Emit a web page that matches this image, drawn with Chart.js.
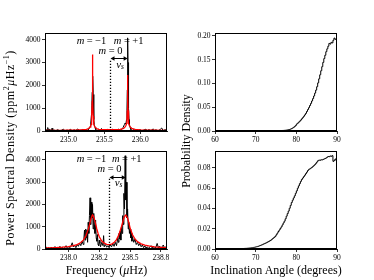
<!DOCTYPE html>
<html><head><meta charset="utf-8">
<script src="https://cdn.jsdelivr.net/npm/chart.js@4.4.1/dist/chart.umd.min.js"></script>
<style>
html,body{margin:0;padding:0;background:#fff;}
body{width:374px;height:280px;position:relative;overflow:hidden;font-family:"Liberation Serif",serif;color:#000;}
.box{position:absolute;}
.t{position:absolute;white-space:nowrap;line-height:1;}
.hor{transform:translate(-50%,-50%);}
#ov{position:absolute;left:0;top:0;pointer-events:none;}
</style></head><body>
<div class="box" id="bTL"><canvas id="cTL"></canvas></div>
<div class="box" id="bBL"><canvas id="cBL"></canvas></div>
<div class="box" id="bTR"><canvas id="cTR"></canvas></div>
<div class="box" id="bBR"><canvas id="cBR"></canvas></div>
<canvas id="ov" width="374" height="280" aria-label="Power Spectral Density (ppm²μHz⁻¹); Probability Density"></canvas>
<div class="t hor" id="xlL" style="left:106.5px;top:270px;font-size:12px;">Frequency (<i>μ</i>Hz)</div>
<div class="t hor" id="xlR" style="left:276px;top:270px;font-size:12px;">Inclination Angle (degrees)</div>
<script>
// ---------------- DATA ----------------
// Top-left spectrum (frequency μHz, PSD)
const TOP_SPECTRUM = [
[234.68,20],[234.70,60],[234.71,150],[234.72,30],[234.735,90],[234.75,10],[234.77,120],[234.78,20],[234.80,40],[234.82,5],
[234.85,60],[234.87,15],[234.90,30],[234.93,80],[234.95,10],[234.98,40],[235.00,20],[235.03,70],[235.05,10],[235.08,50],
[235.10,20],[235.13,90],[235.15,15],[235.18,40],[235.20,60],[235.22,10],[235.25,50],[235.27,30],[235.29,120],[235.30,200],
[235.31,350],[235.32,700],[235.325,1100],[235.33,1700],[235.335,2400],[235.34,2300],[235.345,1600],[235.35,900],[235.355,500],[235.36,280],
[235.37,150],[235.38,60],[235.40,20],[235.42,80],[235.44,30],[235.46,110],[235.48,20],[235.50,60],[235.52,10],[235.54,70],
[235.56,20],[235.58,50],[235.60,30],[235.62,90],[235.64,15],[235.66,60],[235.68,30],[235.70,80],[235.72,20],[235.74,60],
[235.76,150],[235.78,280],[235.79,350],[235.80,300],[235.81,500],[235.815,900],[235.82,1800],[235.825,4080],[235.83,3000],[235.835,1900],
[235.84,1000],[235.845,500],[235.85,280],[235.86,150],[235.87,60],[235.89,20],[235.91,70],[235.93,10],[235.95,50],[235.97,20],
[236.00,60],[236.02,10],[236.05,40],[236.08,80],[236.10,15],[236.12,60],[236.15,20],[236.18,90],[236.20,30],[236.22,50],
[236.25,10],[236.28,70],[236.30,130],[236.32,20],[236.35,60],[236.37,30]
];
const TOP_FIT = [
[234.68,25],[234.80,27],[234.90,30],[235.00,33],[235.10,40],[235.20,55],[235.25,75],[235.28,110],[235.30,170],[235.31,230],
[235.315,290],[235.32,400],[235.325,650],[235.33,1300],[235.333,2200],[235.335,3350],[235.337,2200],[235.34,1300],[235.345,650],[235.35,400],
[235.355,290],[235.36,230],[235.37,170],[235.39,110],[235.42,75],[235.47,60],[235.55,55],[235.65,60],[235.72,75],[235.76,100],
[235.78,140],[235.80,230],[235.81,330],[235.815,480],[235.82,900],[235.823,1700],[235.825,2450],[235.827,1700],[235.83,900],[235.835,480],
[235.84,330],[235.85,230],[235.87,140],[235.89,100],[235.93,70],[236.00,50],[236.10,40],[236.20,33],[236.30,28],[236.37,25]
];
// Bottom-left spectrum
const BOTTOM_SPECTRUM = [
[237.81,30],[237.82,80],[237.83,20],[237.84,60],[237.85,10],[237.86,90],[237.87,30],[237.88,50],[237.89,110],[237.90,20],
[237.91,70],[237.92,40],[237.93,120],[237.94,30],[237.95,80],[237.96,20],[237.97,60],[237.98,150],[237.99,40],[238.00,90],
[238.01,50],[238.02,130],[238.03,280],[238.04,90],[238.05,160],[238.06,60],[238.07,200],[238.08,120],[238.09,260],[238.10,150],
[238.11,350],[238.12,200],[238.125,480],[238.13,850],[238.135,400],[238.14,900],[238.145,500],[238.15,850],[238.155,300],[238.16,1200],
[238.165,700],[238.17,1500],[238.175,2300],[238.18,1100],[238.185,2100],[238.19,1400],[238.195,2000],[238.20,900],[238.205,1600],[238.21,1100],
[238.215,700],[238.22,1300],[238.225,500],[238.23,350],[238.235,650],[238.24,200],[238.245,150],[238.25,400],[238.255,250],[238.26,100],
[238.27,300],[238.28,150],[238.285,600],[238.29,100],[238.30,200],[238.31,80],[238.32,150],[238.33,60],[238.34,180],[238.35,100],
[238.36,250],[238.37,120],[238.38,300],[238.39,150],[238.40,500],[238.405,300],[238.41,700],[238.415,450],[238.42,800],[238.425,400],
[238.43,1000],[238.435,700],[238.44,1500],[238.445,1100],[238.45,2500],[238.455,1800],[238.46,4190],[238.465,2200],[238.47,3000],[238.475,1400],
[238.48,1800],[238.485,900],[238.49,1200],[238.495,700],[238.50,900],[238.505,500],[238.51,700],[238.515,350],[238.52,550],[238.53,300],
[238.54,450],[238.55,200],[238.56,300],[238.57,150],[238.58,250],[238.59,100],[238.60,180],[238.61,60],[238.62,140],[238.63,40],
[238.64,100],[238.65,30],[238.66,80],[238.67,150],[238.68,40],[238.69,110],[238.70,20],[238.71,90],[238.72,250],[238.73,60],
[238.74,130],[238.75,30],[238.76,100],[238.77,180],[238.78,40],[238.79,90],[238.80,50]
];
const BOTTOM_FIT = [
[237.81,45],[237.85,55],[237.90,65],[237.95,80],[238.00,110],[238.04,150],[238.07,200],[238.10,290],[238.12,400],[238.14,580],
[238.16,880],[238.17,1080],[238.18,1300],[238.19,1480],[238.195,1530],[238.20,1500],[238.21,1350],[238.22,1130],[238.23,900],[238.24,700],
[238.25,550],[238.27,360],[238.29,260],[238.31,210],[238.33,200],[238.35,220],[238.37,290],[238.39,420],[238.41,650],[238.43,1000],
[238.44,1200],[238.45,1400],[238.46,1500],[238.465,1520],[238.47,1500],[238.48,1380],[238.49,1180],[238.50,950],[238.52,640],[238.54,450],
[238.56,330],[238.59,230],[238.62,170],[238.66,125],[238.70,95],[238.75,75],[238.80,60]
];
// Mode annotations: [m=-1, m=0, m=+1] frequencies and arrow level
const TOP_MODES = [235.335, 235.58, 235.825];
const TOP_ARROW_PSD = 3180;
const BOTTOM_MODES = [238.195, 238.33, 238.465];
const BOTTOM_ARROW_PSD = 3250;

// Inclination histograms (0.25 degree bins)
const BIN_EDGES = [
60,60.25,60.5,60.75,61,61.25,61.5,61.75,62,62.25,62.5,62.75,63,63.25,63.5,63.75,64,64.25,64.5,64.75,
65,65.25,65.5,65.75,66,66.25,66.5,66.75,67,67.25,67.5,67.75,68,68.25,68.5,68.75,69,69.25,69.5,69.75,
70,70.25,70.5,70.75,71,71.25,71.5,71.75,72,72.25,72.5,72.75,73,73.25,73.5,73.75,74,74.25,74.5,74.75,
75,75.25,75.5,75.75,76,76.25,76.5,76.75,77,77.25,77.5,77.75,78,78.25,78.5,78.75,79,79.25,79.5,79.75,
80,80.25,80.5,80.75,81,81.25,81.5,81.75,82,82.25,82.5,82.75,83,83.25,83.5,83.75,84,84.25,84.5,84.75,
85,85.25,85.5,85.75,86,86.25,86.5,86.75,87,87.25,87.5,87.75,88,88.25,88.5,88.75,89,89.25,89.5,89.75,90];
const TOP_HIST = [
0,0,0,0, 0,0,0,0, 0,0,0,0, 0,0,0,0, 0,0,0,0,
0,0,0,0, 0,0,0,0.0001, 0,0.0001,0,0.0001, 0.0001,0.0001,0.0001,0.0001, 0.0001,0.0001,0.0001,0.0001,
0.0001,0.0001,0.0001,0.0001, 0.0001,0.0001,0.0002,0.0001, 0.0002,0.0002,0.0002,0.0002, 0.0002,0.0003,0.0003,0.0003, 0.0004,0.0004,0.0005,0.0005,
0.0006,0.0006,0.0007,0.0008, 0.0009,0.0010,0.0011,0.0012, 0.0014,0.0016,0.0019,0.0022, 0.0027,0.0032,0.0040,0.0050, 0.0062,0.0076,0.0094,0.0115,
0.0145,0.0163,0.0184,0.0205, 0.0228,0.0255,0.0280,0.0308, 0.0338,0.0370,0.0410,0.0450, 0.0490,0.0535,0.0580,0.0630, 0.0680,0.0735,0.0795,0.0858,
0.0930,0.1010,0.1095,0.1180, 0.1265,0.1350,0.1440,0.1520, 0.1590,0.1665,0.1725,0.1780, 0.1838,0.1825,0.1860,0.1850, 0.1905,0.1950,0.1925,0.1930];
const BOTTOM_HIST = [
0,0,0.0001,0, 0,0.0001,0.0001,0.0001, 0.0001,0.0001,0.0001,0.0001, 0.0001,0.0001,0.0002,0.0001, 0.0002,0.0002,0.0002,0.0002,
0.0002,0.0003,0.0003,0.0003, 0.0004,0.0004,0.0004,0.0005, 0.0005,0.0006,0.0006,0.0007, 0.0008,0.0009,0.0010,0.0011, 0.0013,0.0014,0.0016,0.0018,
0.0021,0.0023,0.0026,0.0030, 0.0034,0.0038,0.0042,0.0047, 0.0052,0.0056,0.0061,0.0066, 0.0072,0.0077,0.0083,0.0090, 0.0099,0.0107,0.0115,0.0125,
0.0140,0.0156,0.0172,0.0187, 0.0203,0.0218,0.0237,0.0256, 0.0274,0.0297,0.0323,0.0348, 0.0373,0.0401,0.0429,0.0457, 0.0480,0.0502,0.0523,0.0548,
0.0572,0.0598,0.0621,0.0643, 0.0665,0.0684,0.0698,0.0712, 0.0726,0.0741,0.0756,0.0772, 0.0783,0.0789,0.0796,0.0803, 0.0812,0.0821,0.0831,0.0843,
0.0856,0.0869,0.0875,0.0872, 0.0878,0.0876,0.0881,0.0886, 0.0890,0.0896,0.0903,0.0910, 0.0908,0.0915,0.0912,0.0918, 0.0862,0.0872,0.0885,0.0870];

// Axis ticks
const TL_X_TICKS = [235.0, 235.5, 236.0];
const TL_X_LABELS = ['235.0', '235.5', '236.0'];
const BL_X_TICKS = [238.0, 238.25, 238.5, 238.75];
const BL_X_LABELS = ['238.0', '238.2', '238.5', '238.8'];
const PSD_Y_TICKS = [0, 1000, 2000, 3000, 4000];
const PSD_Y_LABELS = ['0', '1000', '2000', '3000', '4000'];
const ANG_X_TICKS = [60, 70, 80, 90];
const ANG_X_LABELS = ['60', '70', '80', '90'];
const TR_Y_TICKS = [0, 0.05, 0.10, 0.15, 0.20];
const TR_Y_LABELS = ['0.00', '0.05', '0.10', '0.15', '0.20'];
const BR_Y_TICKS = [0, 0.02, 0.04, 0.06, 0.08];
const BR_Y_LABELS = ['0.00', '0.02', '0.04', '0.06', '0.08'];

// ---------------- LAYOUT ----------------
const Y_AXIS_W = 36, PAD_T = 8, PAD_R = 12, X_AXIS_H = 16;
const TICK_FONT = {family: 'Liberation Serif', size: 7.5};
const ANNO_FONT = 'Liberation Serif';

const framePlugin = {
  id: 'frame',
  afterDraw(chart) {
    const a = chart.chartArea, ctx = chart.ctx;
    ctx.save();
    ctx.strokeStyle = '#000'; ctx.lineWidth = 1;
    ctx.strokeRect(Math.round(a.left) + 0.5, Math.round(a.top) + 0.5,
      Math.round(a.right - a.left) - 1, Math.round(a.bottom - a.top) - 1);
    ctx.restore();
  }
};

function runsWidth(ctx, runs) {
  let w = 0;
  runs.forEach(r => {
    if (r.gap) { w += r.gap; return; }
    ctx.font = (r.it ? 'italic ' : '') + r.size + 'px "' + ANNO_FONT + '"';
    r.w = ctx.measureText(r.t).width; w += r.w;
  });
  return w;
}
function drawRuns(ctx, runs, cx, cy) {
  const w = runsWidth(ctx, runs);
  let x = cx - w / 2;
  ctx.textAlign = 'left'; ctx.textBaseline = 'middle'; ctx.fillStyle = '#000';
  runs.forEach(r => {
    if (r.gap) { x += r.gap; return; }
    ctx.font = (r.it ? 'italic ' : '') + r.size + 'px "' + ANNO_FONT + '"';
    ctx.fillText(r.t, x, cy + (r.dy || 0));
    x += r.w;
  });
}

const annoPlugin = {
  id: 'anno',
  afterDatasetsDraw(chart, args, opts) {
    if (!opts || !opts.modes) return;
    const xs = chart.scales.x, ys = chart.scales.y, ca = chart.chartArea, ctx = chart.ctx;
    const xm1 = xs.getPixelForValue(opts.modes[0]);
    const x0 = Math.round(xs.getPixelForValue(opts.modes[1])) + 0.5;
    const xp1 = xs.getPixelForValue(opts.modes[2]);
    const ya = Math.round(ys.getPixelForValue(opts.arrow)) + 0.5;
    const yb = ys.getPixelForValue(0);
    ctx.save();
    ctx.strokeStyle = '#000'; ctx.lineWidth = 1.3;
    ctx.setLineDash([1.3, 1.7]);
    ctx.beginPath(); ctx.moveTo(x0, yb); ctx.lineTo(x0, ya + 1); ctx.stroke();
    ctx.setLineDash([]);
    ctx.lineWidth = 1;
    ctx.beginPath(); ctx.moveTo(x0 + 2, ya); ctx.lineTo(xp1 - 2, ya); ctx.stroke();
    ctx.fillStyle = '#000';
    ctx.beginPath(); ctx.moveTo(x0, ya); ctx.lineTo(x0 + 4, ya - 2.2); ctx.lineTo(x0 + 4, ya + 2.2); ctx.closePath(); ctx.fill();
    ctx.beginPath(); ctx.moveTo(xp1, ya); ctx.lineTo(xp1 - 4, ya - 2.2); ctx.lineTo(xp1 - 4, ya + 2.2); ctx.closePath(); ctx.fill();
    const S = 10.5, G = 2.5;
    drawRuns(ctx, [{t:'m', it:1, size:S}, {gap:G}, {t:'=', size:S}, {gap:G}, {t:'−1', size:S}], xm1 - 1, ca.top + 8);
    drawRuns(ctx, [{t:'m', it:1, size:S}, {gap:G}, {t:'=', size:S}, {gap:G}, {t:'+1', size:S}], xp1 + 1, ca.top + 8);
    drawRuns(ctx, [{t:'m', it:1, size:S}, {gap:G}, {t:'=', size:S}, {gap:G}, {t:'0', size:S}], x0, ca.top + 18.5);
    drawRuns(ctx, [{t:'ν', it:1, size:S + 0.5}, {t:'s', it:1, size:7.5, dy:2.5}], (x0 + xp1) / 2 + 1, ca.top + 32);
    ctx.restore();
  }
};

function axis(min, max, ticks, labels, horizontal) {
  const o = {
    type: 'linear', min: min, max: max, bounds: 'data',
    afterBuildTicks: s => { s.ticks = ticks.map(v => ({value: v})); },
    ticks: {callback: (v, i) => labels[i], font: TICK_FONT, color: '#000', padding: 1.5,
            maxRotation: 0, autoSkip: false},
    grid: {display: true, drawOnChartArea: false, drawTicks: true, tickLength: 3,
           color: '#000', lineWidth: 0.8},
    border: {display: true, color: '#000', width: 1}
  };
  if (horizontal) {
    o.afterFit = s => { s.height = X_AXIS_H; s.paddingLeft = 0; s.paddingRight = 0; };
  } else {
    o.afterFit = s => { s.width = Y_AXIS_W; s.paddingTop = 0; s.paddingBottom = 0; };
  }
  return o;
}

function makeChart(id, area, cfg) {
  const w = Y_AXIS_W + (area.r - area.l) + PAD_R;
  const h = PAD_T + (area.b - area.t) + X_AXIS_H;
  const box = document.getElementById('b' + id);
  box.style.left = (area.l - Y_AXIS_W) + 'px'; box.style.top = (area.t - PAD_T) + 'px';
  box.style.width = w + 'px'; box.style.height = h + 'px';
  const cv = document.getElementById('c' + id);
  cv.width = w; cv.height = h; cv.style.width = w + 'px'; cv.style.height = h + 'px';
  return new Chart(cv, {
    type: 'line',
    data: {datasets: cfg.datasets},
    options: {
      responsive: false, animation: false, devicePixelRatio: 1,
      layout: {padding: {top: PAD_T, right: PAD_R, left: 0, bottom: 0}},
      plugins: {legend: {display: false}, tooltip: {enabled: false}, anno: cfg.anno || false},
      elements: {point: {radius: 0}, line: {tension: 0}},
      scales: {
        x: axis(cfg.xMin, cfg.xMax, cfg.xTicks, cfg.xLabels, true),
        y: axis(cfg.yMin, cfg.yMax, cfg.yTicks, cfg.yLabels, false)
      }
    },
    plugins: [framePlugin, annoPlugin]
  });
}

const pairs = arr => arr.map(p => ({x: p[0], y: p[1]}));
const histPts = (edges, vals) => edges.map((e, i) => ({x: e, y: vals[Math.min(i, vals.length - 1)]}));

function drawYTitles() {
  const ctx = document.getElementById('ov').getContext('2d');
  const S = 12;
  const left = [{t:'Power Spectral Density (ppm', size:S}, {t:'2', size:8, dy:-4},
                {t:'μ', it:1, size:S}, {t:'Hz', size:S}, {t:'−1', size:8, dy:-4}, {t:')', size:S}];
  // widen to the measured length of the label in the reference
  const nat = runsWidth(ctx, left), target = 195;
  const extra = (target - nat) / 33;
  left.forEach(r => { if (r.t) r.t = r.t; });
  ctx.save();
  ctx.translate(11, 148); ctx.rotate(-Math.PI / 2);
  if ('letterSpacing' in ctx) ctx.letterSpacing = extra.toFixed(2) + 'px';
  drawRuns(ctx, left, 0, 0);
  ctx.restore();
  ctx.save();
  ctx.translate(187, 141); ctx.rotate(-Math.PI / 2);
  drawRuns(ctx, [{t:'Probability Density', size:S}], 0, 0);
  ctx.restore();
}

function build() {
  makeChart('TL', {l: 45, t: 33, r: 167, b: 131}, {
    datasets: [
      {data: pairs(TOP_FIT), borderColor: '#ff0000', borderWidth: 1.3},
      {data: pairs(TOP_SPECTRUM), borderColor: '#000', borderWidth: 1}
    ],
    xMin: 234.672, xMax: 236.374, xTicks: TL_X_TICKS, xLabels: TL_X_LABELS,
    yMin: 0, yMax: 4293, yTicks: PSD_Y_TICKS, yLabels: PSD_Y_LABELS,
    anno: {modes: TOP_MODES, arrow: TOP_ARROW_PSD}
  });
  makeChart('BL', {l: 45, t: 151, r: 167, b: 249}, {
    datasets: [
      {data: pairs(BOTTOM_FIT), borderColor: '#ff0000', borderWidth: 1.3},
      {data: pairs(BOTTOM_SPECTRUM), borderColor: '#000', borderWidth: 1}
    ],
    xMin: 237.809, xMax: 238.80, xTicks: BL_X_TICKS, xLabels: BL_X_LABELS,
    yMin: 0, yMax: 4404, yTicks: PSD_Y_TICKS, yLabels: PSD_Y_LABELS,
    anno: {modes: BOTTOM_MODES, arrow: BOTTOM_ARROW_PSD}
  });
  makeChart('TR', {l: 215, t: 33, r: 337, b: 131}, {
    datasets: [{data: histPts(BIN_EDGES, TOP_HIST), borderColor: '#000', borderWidth: 1, stepped: 'before'}],
    xMin: 60, xMax: 90, xTicks: ANG_X_TICKS, xLabels: ANG_X_LABELS,
    yMin: 0, yMax: 0.2057, yTicks: TR_Y_TICKS, yLabels: TR_Y_LABELS
  });
  makeChart('BR', {l: 215, t: 151, r: 337, b: 249}, {
    datasets: [{data: histPts(BIN_EDGES, BOTTOM_HIST), borderColor: '#000', borderWidth: 1, stepped: 'before'}],
    xMin: 60, xMax: 90, xTicks: ANG_X_TICKS, xLabels: ANG_X_LABELS,
    yMin: 0, yMax: 0.0964, yTicks: BR_Y_TICKS, yLabels: BR_Y_LABELS
  });
  drawYTitles();
}
if (document.fonts && document.fonts.ready) document.fonts.ready.then(build); else build();
</script>
</body></html>
